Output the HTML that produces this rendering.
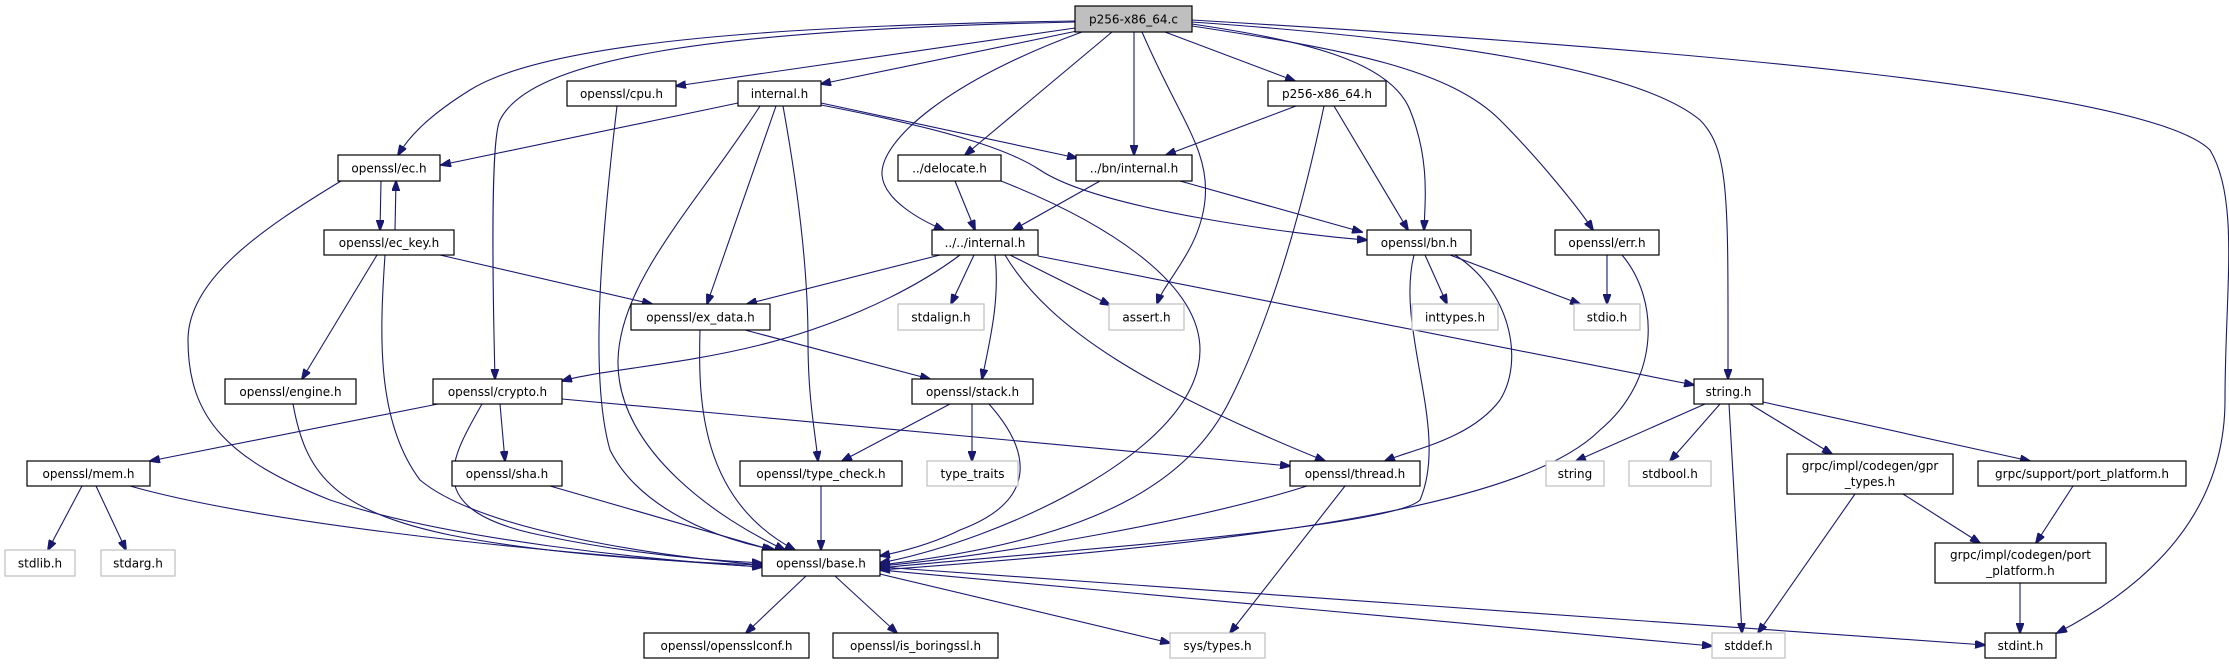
<!DOCTYPE html>
<html><head><meta charset="utf-8"><style>
html,body{margin:0;padding:0;background:#fff;}
svg{display:block;}
text{font-family:"DejaVu Sans","Liberation Sans",sans-serif;font-size:12px;fill:#000;}
.n{fill:#fff;stroke:#000;stroke-width:1.2;}
.g{fill:#fff;stroke:#bfbfbf;stroke-width:1.2;}
.r{fill:#bfbfbf;stroke:#000;stroke-width:1.2;}
path.e{fill:none;stroke:#191970;stroke-width:1.1;marker-end:url(#a);}
</style></head><body>
<svg width="2229" height="664" viewBox="0 0 2229 664" xmlns="http://www.w3.org/2000/svg">
<defs><marker id="a" markerWidth="11" markerHeight="8" refX="10" refY="4" orient="auto" markerUnits="userSpaceOnUse"><path d="M0,0 L11,4 L0,8 z" fill="#191970" stroke="#191970"/></marker></defs>

<path class="e" d="M1075,21 C800,25 550,40 470,90 C430,115 410,135 398,155"/>
<path class="e" d="M1075,22 C700,30 530,60 500,120 C490,140 493,300 495,379"/>
<path class="e" d="M1075,28 L676,86"/>
<path class="e" d="M1077,31 L821,84"/>
<path class="e" d="M1082,32 C950,80 880,140 882,175 C884,200 920,220 944,230"/>
<path class="e" d="M1112,32 L965,155"/>
<path class="e" d="M1134,32 L1134,155"/>
<path class="e" d="M1142,32 C1180,120 1210,150 1205,200 C1200,250 1165,280 1157,304"/>
<path class="e" d="M1165,32 L1295,81"/>
<path class="e" d="M1192,24 C1300,40 1390,60 1410,110 C1430,160 1425,200 1424,230"/>
<path class="e" d="M1192,26 C1350,50 1450,70 1500,120 C1540,160 1580,210 1593,230"/>
<path class="e" d="M1192,22 C1450,40 1640,70 1700,120 C1730,150 1728,200 1728,379"/>
<path class="e" d="M1192,20 C1700,50 2150,90 2210,150 C2240,200 2225,290 2225,400 C2225,520 2140,590 2057,633"/>
<path class="e" d="M738,103 L441,165"/>
<path class="e" d="M776,106 L707,304"/>
<path class="e" d="M760,106 C700,200 620,280 618,360 C616,450 720,520 785,550"/>
<path class="e" d="M783,106 C800,200 808,280 808,340 C808,400 815,430 818,461"/>
<path class="e" d="M821,103 L1077,158"/>
<path class="e" d="M821,105 C950,130 1010,150 1040,170 C1100,210 1300,235 1367,240"/>
<path class="e" d="M1296,106 L1166,155"/>
<path class="e" d="M1334,106 L1408,230"/>
<path class="e" d="M1324,106 C1300,220 1270,320 1230,400 C1190,480 1100,540 880,565"/>
<path class="e" d="M381,181 L380,230"/>
<path class="e" d="M395,230 L396,181"/>
<path class="e" d="M341,181 C260,230 188,280 188,340 C188,420 230,460 330,500 C450,540 650,560 762,567"/>
<path class="e" d="M440,255 L652,304"/>
<path class="e" d="M377,255 L302,379"/>
<path class="e" d="M385,255 C380,330 375,420 420,480 C480,530 650,555 762,565"/>
<path class="e" d="M955,181 L975,230"/>
<path class="e" d="M1001,181 C1100,220 1200,280 1200,350 C1200,450 1000,540 880,563"/>
<path class="e" d="M1100,181 L1013,230"/>
<path class="e" d="M1180,181 L1362,232"/>
<path class="e" d="M940,255 L747,304"/>
<path class="e" d="M974,255 L951,304"/>
<path class="e" d="M960,255 C900,300 820,330 760,345 C680,365 600,370 562,381"/>
<path class="e" d="M995,255 C1000,300 990,340 982,379"/>
<path class="e" d="M1010,255 L1110,305"/>
<path class="e" d="M1005,255 C1050,330 1150,390 1325,461"/>
<path class="e" d="M1038,256 L1694,385"/>
<path class="e" d="M745,330 L930,379"/>
<path class="e" d="M700,330 C698,400 700,500 795,550"/>
<path class="e" d="M1425,255 L1447,304"/>
<path class="e" d="M1450,255 L1580,304"/>
<path class="e" d="M1455,255 C1510,290 1525,360 1500,400 C1470,440 1410,450 1385,461"/>
<path class="e" d="M1414,255 C1395,330 1450,430 1420,500 C1390,530 1000,555 880,568"/>
<path class="e" d="M1607,255 L1607,304"/>
<path class="e" d="M1622,255 C1660,300 1660,380 1600,430 C1530,500 1300,540 880,570"/>
<path class="e" d="M1705,404 L1576,461"/>
<path class="e" d="M1720,404 L1670,461"/>
<path class="e" d="M1729,404 L1742,633"/>
<path class="e" d="M1750,404 L1832,454"/>
<path class="e" d="M1763,402 L2030,461"/>
<path class="e" d="M1855,494 L1758,633"/>
<path class="e" d="M1903,494 L1980,543"/>
<path class="e" d="M2073,486 L2036,543"/>
<path class="e" d="M2020,583 L2020,633"/>
<path class="e" d="M1345,486 L1230,633"/>
<path class="e" d="M1307,486 C1200,520 1000,555 880,566"/>
<path class="e" d="M438,404 L150,461"/>
<path class="e" d="M500,404 L505,461"/>
<path class="e" d="M562,399 L1290,466"/>
<path class="e" d="M482,404 C450,460 420,510 540,535 C620,552 700,560 762,563"/>
<path class="e" d="M293,404 C305,470 330,510 450,535 C550,555 680,562 762,565"/>
<path class="e" d="M950,404 L842,461"/>
<path class="e" d="M972,404 L972,461"/>
<path class="e" d="M989,404 C1030,450 1040,500 960,530 C930,545 900,552 880,556"/>
<path class="e" d="M82,486 L48,550"/>
<path class="e" d="M96,486 L126,550"/>
<path class="e" d="M130,486 C250,520 500,550 762,567"/>
<path class="e" d="M550,486 L772,550"/>
<path class="e" d="M821,486 L821,550"/>
<path class="e" d="M617,106 C600,250 590,380 610,450 C640,510 720,540 775,550"/>
<path class="e" d="M806,576 L746,633"/>
<path class="e" d="M835,576 L897,633"/>
<path class="e" d="M880,574 L1170,643"/>
<path class="e" d="M880,570 L1712,646"/>
<path class="e" d="M880,567 L1985,645"/>

<g>
<rect class="r" x="1075" y="6" width="117" height="26"/><text x="1133.5" y="23.5" text-anchor="middle">p256-x86_64.c</text>
<rect class="n" x="567" y="81" width="109" height="25"/><text x="621.5" y="98" text-anchor="middle">openssl/cpu.h</text>
<rect class="n" x="738" y="81" width="83" height="25"/><text x="779.5" y="98" text-anchor="middle">internal.h</text>
<rect class="n" x="1268" y="81" width="118" height="25"/><text x="1327" y="98" text-anchor="middle">p256-x86_64.h</text>
<rect class="n" x="338" y="155" width="102" height="26"/><text x="389" y="172.5" text-anchor="middle">openssl/ec.h</text>
<rect class="n" x="898" y="155" width="103" height="26"/><text x="949.5" y="172.5" text-anchor="middle">../delocate.h</text>
<rect class="n" x="1076" y="155" width="116" height="26"/><text x="1134" y="172.5" text-anchor="middle">../bn/internal.h</text>
<rect class="n" x="324" y="230" width="130" height="25"/><text x="389" y="247" text-anchor="middle">openssl/ec_key.h</text>
<rect class="n" x="932" y="230" width="106" height="25"/><text x="985" y="247" text-anchor="middle">../../internal.h</text>
<rect class="n" x="1367" y="230" width="104" height="25"/><text x="1419" y="247" text-anchor="middle">openssl/bn.h</text>
<rect class="n" x="1555" y="230" width="104" height="25"/><text x="1607" y="247" text-anchor="middle">openssl/err.h</text>
<rect class="n" x="631" y="304" width="139" height="26"/><text x="700.5" y="321.5" text-anchor="middle">openssl/ex_data.h</text>
<rect class="g" x="898" y="304" width="86" height="26"/><text x="941" y="321.5" text-anchor="middle">stdalign.h</text>
<rect class="g" x="1109" y="304" width="75" height="26"/><text x="1146.5" y="321.5" text-anchor="middle">assert.h</text>
<rect class="g" x="1412" y="304" width="86" height="26"/><text x="1455" y="321.5" text-anchor="middle">inttypes.h</text>
<rect class="g" x="1574" y="304" width="66" height="26"/><text x="1607" y="321.5" text-anchor="middle">stdio.h</text>
<rect class="n" x="225" y="379" width="131" height="25"/><text x="290.5" y="396" text-anchor="middle">openssl/engine.h</text>
<rect class="n" x="433" y="379" width="129" height="25"/><text x="497.5" y="396" text-anchor="middle">openssl/crypto.h</text>
<rect class="n" x="912" y="379" width="121" height="25"/><text x="972.5" y="396" text-anchor="middle">openssl/stack.h</text>
<rect class="n" x="1694" y="379" width="69" height="25"/><text x="1728.5" y="396" text-anchor="middle">string.h</text>
<rect class="n" x="27" y="461" width="123" height="25"/><text x="88.5" y="478" text-anchor="middle">openssl/mem.h</text>
<rect class="n" x="452" y="461" width="110" height="25"/><text x="507" y="478" text-anchor="middle">openssl/sha.h</text>
<rect class="n" x="740" y="461" width="162" height="25"/><text x="821" y="478" text-anchor="middle">openssl/type_check.h</text>
<rect class="g" x="927" y="461" width="91" height="25"/><text x="972.5" y="478" text-anchor="middle">type_traits</text>
<rect class="n" x="1290" y="461" width="130" height="25"/><text x="1355" y="478" text-anchor="middle">openssl/thread.h</text>
<rect class="g" x="1546" y="461" width="58" height="25"/><text x="1575" y="478" text-anchor="middle">string</text>
<rect class="g" x="1629" y="461" width="82" height="25"/><text x="1670" y="478" text-anchor="middle">stdbool.h</text>
<rect class="n" x="1787" y="454" width="166" height="40"/><text x="1870" y="470" text-anchor="middle">grpc/impl/codegen/gpr</text><text x="1870" y="486" text-anchor="middle">_types.h</text>
<rect class="n" x="1978" y="461" width="208" height="25"/><text x="2082" y="478" text-anchor="middle">grpc/support/port_platform.h</text>
<rect class="g" x="5" y="550" width="70" height="26"/><text x="40" y="567.5" text-anchor="middle">stdlib.h</text>
<rect class="g" x="101" y="550" width="74" height="26"/><text x="138" y="567.5" text-anchor="middle">stdarg.h</text>
<rect class="n" x="762" y="550" width="118" height="26"/><text x="821" y="567.5" text-anchor="middle">openssl/base.h</text>
<rect class="n" x="1935" y="543" width="171" height="40"/><text x="2020.5" y="559" text-anchor="middle">grpc/impl/codegen/port</text><text x="2020.5" y="575" text-anchor="middle">_platform.h</text>
<rect class="n" x="644" y="633" width="165" height="25"/><text x="726.5" y="650" text-anchor="middle">openssl/opensslconf.h</text>
<rect class="n" x="833" y="633" width="165" height="25"/><text x="915.5" y="650" text-anchor="middle">openssl/is_boringssl.h</text>
<rect class="g" x="1170" y="633" width="95" height="25"/><text x="1217.5" y="650" text-anchor="middle">sys/types.h</text>
<rect class="g" x="1712" y="633" width="73" height="25"/><text x="1748.5" y="650" text-anchor="middle">stddef.h</text>
<rect class="n" x="1985" y="633" width="71" height="25"/><text x="2020.5" y="650" text-anchor="middle">stdint.h</text>
</g>
</svg>
</body></html>
